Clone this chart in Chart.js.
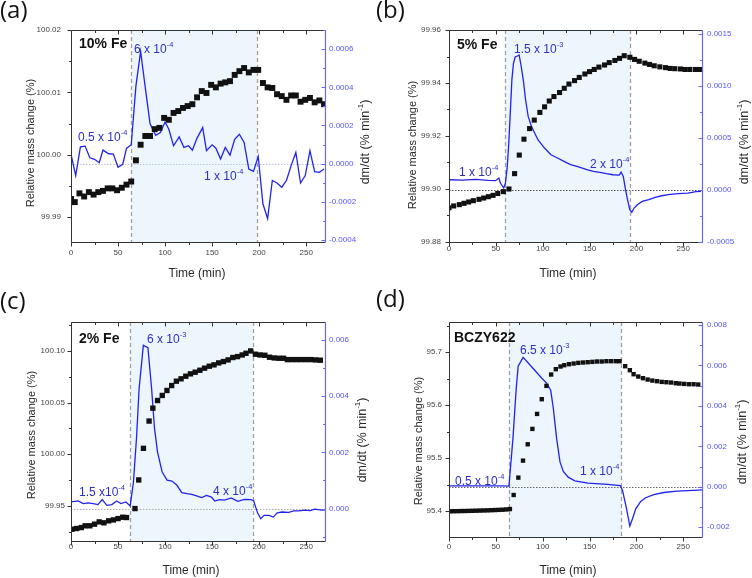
<!DOCTYPE html>
<html>
<head>
<meta charset="utf-8">
<title>TGA mass change and dm/dt</title>
<script src="https://cdn.jsdelivr.net/npm/chart.js@4.4.1/dist/chart.umd.min.js"></script>
<style>
  body { margin: 0; background: #fff; }
  #wrap { position: relative; width: 752px; height: 578px; }
  #wrap canvas { position: absolute; }
</style>
</head>
<body>
<div id="wrap">
  <canvas id="pa" width="376" height="289" style="left:0;top:0"></canvas>
  <canvas id="pb" width="376" height="289" style="left:376px;top:0"></canvas>
  <canvas id="pc" width="376" height="289" style="left:0;top:289px"></canvas>
  <canvas id="pd" width="376" height="289" style="left:376px;top:289px"></canvas>
</div>
<script>
// shared time axis ticks (min)
const xTicks = [0, 50, 100, 150, 200, 250];

// (a) 10% Fe
const aMassTime = [0,4,9,14,19,24,29,34,39,44,49,54,59,64,69,74,79,84,89,94,99,104,109,114,119,124,129,134,139,144,149,154,159,164,169,174,179,184,189,194,199,204,209,214,219,224,229,234,239,244,249,254,259,264,269];
const aMass = [99.9929,99.9924,99.9938,99.9933,99.9940,99.9936,99.9940,99.9942,99.9946,99.9946,99.9943,99.9947,99.9952,99.9957,99.9991,100.0016,100.0030,100.0030,100.0041,100.0043,100.0059,100.0056,100.0067,100.0070,100.0075,100.0078,100.0081,100.0092,100.0102,100.0099,100.0112,100.0108,100.0114,100.0116,100.0118,100.0128,100.0134,100.0139,100.0132,100.0136,100.0136,100.0115,100.0108,100.0107,100.0097,100.0094,100.0088,100.0095,100.0095,100.0085,100.0088,100.0091,100.0084,100.0087,100.0081];
const aRateTime = [0,5,10,15,20,25,30,34,40,45,50,55,59,64,69,74,79,84,90,95,100,104,109,115,120,125,129,134,140,144,150,154,159,164,169,174,179,184,189,194,199,204,209,214,219,224,229,234,239,244,249,254,259,264,269];
const aRate = [0.50e-4,-0.62e-4,0.88e-4,0.92e-4,0.31e-4,0.23e-4,0.05e-4,0.71e-4,0.52e-4,0.50e-4,-0.19e-4,-0.03e-4,0.80e-4,0.99e-4,4.06e-4,5.88e-4,3.97e-4,2.10e-4,1.49e-4,1.63e-4,2.18e-4,1.80e-4,0.94e-4,1.40e-4,0.85e-4,0.94e-4,0.71e-4,1.34e-4,1.89e-4,0.68e-4,0.99e-4,0.81e-4,0.24e-4,0.85e-4,0.45e-4,1.28e-4,1.54e-4,1.11e-4,-0.28e-4,-0.40e-4,0.38e-4,-2.10e-4,-2.88e-4,-0.88e-4,-1.01e-4,-1.23e-4,-0.88e-4,-0.10e-4,0.59e-4,-1.01e-4,-0.62e-4,0.68e-4,-0.42e-4,-0.45e-4,-0.28e-4];
const aMassTicks = [99.99, 100.00, 100.01, 100.02];
const aRateTicks = [-0.0004, -0.0002, 0, 0.0002, 0.0004, 0.0006];

// (b) 5% Fe
const bMassTime = [0,5,11,16,21,26,32,37,42,47,52,58,64,70,75,80,86,91,97,102,107,112,118,123,128,134,139,145,150,155,160,166,171,177,182,187,193,198,203,209,214,219,225,231,236,241,247,252,257,263,268];
const bMass = [99.8929,99.8936,99.8941,99.8946,99.8951,99.8956,99.8961,99.8966,99.8971,99.8976,99.8983,99.8990,99.9000,99.9058,99.9128,99.9188,99.9228,99.9260,99.9289,99.9310,99.9332,99.9349,99.9364,99.9380,99.9396,99.9409,99.9421,99.9434,99.9443,99.9451,99.9460,99.9468,99.9477,99.9485,99.9493,99.9503,99.9497,99.9489,99.9482,99.9475,99.9470,99.9465,99.9461,99.9458,99.9455,99.9454,99.9453,99.9451,99.9451,99.9451,99.9451];
const bRateTime = [0.3,14.3,28.2,42.1,49.7,53.2,54.9,58.4,60.2,61.9,63.6,65.4,67.1,68.8,70.6,73.0,74.8,76.5,79.3,81.7,84.5,88.0,91.4,94.9,101.9,108.8,115.8,122.7,129.7,136.6,147.1,154.0,161.0,167.9,174.9,181.8,183.6,186.0,188.1,190.5,193.0,195.1,197.5,201.0,206.2,213.1,220.1,227.0,234.0,244.4,254.9,263.6,269];
const bRate = [0.99e-4,0.96e-4,1.03e-4,0.93e-4,0.90e-4,1.15e-4,0.67e-4,0.19e-4,0.67e-4,1.96e-4,4.20e-4,7.40e-4,10.6e-4,12.2e-4,12.8e-4,12.9e-4,13.0e-4,12.2e-4,10.6e-4,8.69e-4,7.08e-4,6.12e-4,5.48e-4,4.84e-4,4.04e-4,3.40e-4,3.08e-4,2.76e-4,2.44e-4,2.28e-4,1.96e-4,1.79e-4,1.70e-4,1.57e-4,1.47e-4,1.44e-4,1.73e-4,1.31e-4,0.19e-4,-0.93e-4,-1.89e-4,-2.15e-4,-1.73e-4,-1.41e-4,-1.09e-4,-0.93e-4,-0.71e-4,-0.55e-4,-0.45e-4,-0.35e-4,-0.29e-4,-0.16e-4,-0.12e-4];
const bMassTicks = [99.88, 99.90, 99.92, 99.94, 99.96];
const bRateTicks = [-0.0005, 0, 0.0005, 0.0010, 0.0015];

// (c) 2% Fe
const cMassTime = [1,6,11,15,20,25,30,35,40,45,50,55,59,68,72,77,83,87,92,97,102,107,112,117,122,127,132,137,142,147,152,157,162,167,172,177,182,186,191,196,201,206,211,216,221,226,230,235,240,245,250,255,260,265];
const cMass = [99.9274,99.9281,99.9290,99.9307,99.9307,99.9323,99.9345,99.9336,99.9355,99.9364,99.9377,99.9390,99.9387,99.9474,99.9751,100.0057,100.0321,100.0446,100.0520,100.0569,100.0617,100.0665,100.0707,100.0730,100.0755,100.0778,100.0794,100.0813,100.0833,100.0852,100.0865,100.0884,100.0897,100.0913,100.0936,100.0945,100.0961,100.0977,100.1000,100.0968,100.0961,100.0958,100.0939,100.0932,100.0929,100.0929,100.0916,100.0916,100.0916,100.0916,100.0916,100.0916,100.0913,100.0910];
const cRateTime = [0,7.7,12.9,18.2,23.4,28.7,33.2,38.1,43.4,48.6,53.1,58.4,62.9,66.4,69.6,72.4,76.9,81.8,85.7,88.8,92.0,96.9,102.1,107.3,112.6,117.8,123.1,128.3,133.6,138.8,144.1,149.3,152.8,158.0,163.3,170.3,177.3,184.3,191.3,194.1,198.3,201.7,205.2,210.5,215.0,219.2,224.5,231.5,236.7,242.0,249.0,254.2,259.4,266.4,270];
const cRate = [0.237e-3,0.272e-3,0.178e-3,0.201e-3,0.178e-3,0.142e-3,0.320e-3,0.118e-3,0.142e-3,0.272e-3,0.178e-3,0.237e-3,0.095e-3,0.947e-3,2.49e-3,4.26e-3,5.80e-3,5.72e-3,4.26e-3,2.84e-3,2.01e-3,1.30e-3,1.01e-3,0.98e-3,0.83e-3,0.57e-3,0.53e-3,0.51e-3,0.45e-3,0.39e-3,0.47e-3,0.41e-3,0.27e-3,0.32e-3,0.30e-3,0.38e-3,0.26e-3,0.33e-3,0.32e-3,0.28e-3,-0.15e-3,-0.36e-3,-0.24e-3,-0.24e-3,-0.30e-3,-0.15e-3,-0.12e-3,-0.13e-3,-0.08e-3,-0.08e-3,-0.05e-3,-0.07e-3,-0.02e-3,-0.05e-3,-0.04e-3];
const cMassTicks = [99.95, 100.00, 100.05, 100.10];
const cRateTicks = [0, 0.002, 0.004, 0.006];

// (d) BCZY622
const dMassTime = [1,5,9,13,17,21,25,29,33,37,41,45,49,53,57,61,65,69,74,79,84,89,94,99,104,109,114,119,123,128,133,138,143,148,153,158,163,168,173,178,182,188,193,197,202,207,212,217,222,227,232,237,242,246,251,256,261,266];
const dMass = [95.3995,95.3997,95.3998,95.4000,95.4001,95.4003,95.4005,95.4007,95.4009,95.4011,95.4013,95.4016,95.4019,95.4022,95.4025,95.4030,95.4038,95.4303,95.4631,95.4952,95.5261,95.5551,95.5834,95.6112,95.6364,95.6578,95.6679,95.6729,95.6754,95.6773,95.6786,95.6798,95.6805,95.6811,95.6817,95.6824,95.6824,95.6830,95.6830,95.6830,95.6830,95.6735,95.6660,95.6584,95.6540,95.6509,95.6483,95.6464,95.6452,95.6439,95.6433,95.6427,95.6414,95.6408,95.6401,95.6395,95.6395,95.6389];
const dRateTime = [0,28.8,56.9,64.0,68.2,71.7,73.8,79.1,88.6,99.1,104.4,108.6,111.4,114.9,118.5,122.0,127.2,134.3,148.3,169.4,182.8,185.2,189.5,193.0,195.8,199.3,204.6,209.8,218.6,229.2,243.2,266.1,270];
const dRate = [0.049e-3,0.049e-3,0.049e-3,0.033e-3,2.37e-3,4.84e-3,5.96e-3,6.40e-3,5.91e-3,5.37e-3,5.12e-3,4.76e-3,3.85e-3,2.37e-3,1.22e-3,0.76e-3,0.48e-3,0.30e-3,0.18e-3,0.12e-3,0.066e-3,-0.18e-3,-1.09e-3,-1.94e-3,-1.58e-3,-1.09e-3,-0.72e-3,-0.54e-3,-0.38e-3,-0.28e-3,-0.21e-3,-0.16e-3,-0.15e-3];
const dMassTicks = [95.4, 95.5, 95.6, 95.7];
const dRateTicks = [-0.002, 0, 0.002, 0.004, 0.006, 0.008];

const FONT = '"Liberation Sans", Arial, sans-serif';
const BLUE_LINE = '#2222f0';
const BLUE_TEXT = '#2e2ec4';
const BLUE_AXIS = '#6666ff';
const SHADE = '#ecf6fc';

const panels = [
  { canvas: 'pa', tag: '(a)', tagY: 18,
    massT: aMassTime, mass: aMass, rateT: aRateTime, rate: aRate,
    massTicks: aMassTicks, rateTicks: aRateTicks,
    yMin: 99.986, yMax: 100.02, rMin: -0.00041, rMax: 0.0007, massDec: 2, rateDec: 4,
    shade: [64, 198], zeroColor: '#b8c2da', sq: 4.2,
    area: { left: 71, right: 325, top: 30, bottom: 242 }, pad: { x: 6, l: 10, r: 4 },
    titles: { x: [197, 274], l: [31, 143], r: [366, 142] },
    notes: [
      { x: 79, y: 44, text: '10% Fe', bold: true },
      { x: 134, y: 50, text: '6 x 10', sup: '-4' },
      { x: 78, y: 138, text: '0.5 x 10', sup: '-4' },
      { x: 204, y: 177, text: '1 x 10', sup: '-4' }
    ] },
  { canvas: 'pb', tag: '(b)', tagY: 18,
    massT: bMassTime, mass: bMass, rateT: bRateTime, rate: bRate,
    massTicks: bMassTicks, rateTicks: bRateTicks,
    yMin: 99.88, yMax: 99.96, rMin: -0.0005, rMax: 0.00154, massDec: 2, rateDec: 4,
    shade: [60, 193], zeroColor: '#555', sq: 3.6,
    area: { left: 73, right: 326, top: 30, bottom: 242 }, pad: { x: 2, l: 8, r: 5 },
    titles: { x: [192, 274], l: [37, 145], r: [369, 142] },
    notes: [
      { x: 81, y: 45, text: '5% Fe', bold: true },
      { x: 138, y: 50, text: '1.5 x 10', sup: '-3' },
      { x: 83, y: 173, text: '1 x 10', sup: '-4' },
      { x: 214, y: 165, text: '2 x 10', sup: '-4' }
    ] },
  { canvas: 'pc', tag: '(c)', tagY: 20,
    massT: cMassTime, mass: cMass, rateT: cRateTime, rate: cRate,
    massTicks: cMassTicks, rateTicks: cRateTicks,
    yMin: 99.916, yMax: 100.128, rMin: -0.00115, rMax: 0.00663, massDec: 2, rateDec: 3,
    shade: [63, 193], zeroColor: '#aaa', sq: 3.8,
    area: { left: 71, right: 325, top: 33, bottom: 252 }, pad: { x: 1, l: 6, r: 4 },
    titles: { x: [191, 282], l: [32, 146], r: [363, 151] },
    notes: [
      { x: 79, y: 50, text: '2% Fe', bold: true },
      { x: 147, y: 51, text: '6 x 10', sup: '-3' },
      { x: 79, y: 204, text: '1.5 x10', sup: '-4' },
      { x: 213, y: 203, text: '4 x 10', sup: '-4' }
    ] },
  { canvas: 'pd', tag: '(d)', tagY: 18,
    massT: dMassTime, mass: dMass, rateT: dRateTime, rate: dRate,
    massTicks: dMassTicks, rateTicks: dRateTicks,
    yMin: 95.351, yMax: 95.757, rMin: -0.00248, rMax: 0.00815, massDec: 1, rateDec: 3,
    shade: [64, 184], zeroColor: '#666', sq: 3.1,
    area: { left: 73, right: 326, top: 33, bottom: 248 }, pad: { x: 5, l: 7, r: 5 },
    titles: { x: [192, 282], l: [43, 152], r: [367, 153] },
    notes: [
      { x: 78, y: 49, text: 'BCZY622', bold: true },
      { x: 144, y: 62, text: '6.5 x 10', sup: '-3' },
      { x: 79, y: 193, text: '0.5 x 10', sup: '-4' },
      { x: 204, y: 183, text: '1 x 10', sup: '-4' }
    ] }
];

function xy(ts, vs) {
  return ts.map((t, i) => ({ x: t, y: vs[i] }));
}

function minorsOf(major, min, max) {
  const out = [];
  const st = major[1] - major[0];
  if (major[0] - st / 2 >= min) out.push(major[0] - st / 2);
  for (let i = 0; i < major.length - 1; i++) out.push((major[i] + major[i + 1]) / 2);
  const last = major[major.length - 1] + st / 2;
  if (last <= max) out.push(last);
  return out;
}

function seg(ctx, x1, y1, x2, y2) {
  ctx.beginPath();
  ctx.moveTo(x1, y1);
  ctx.lineTo(x2, y2);
  ctx.stroke();
}

// text with an optional raised part, drawn left or centred on x
function rich(ctx, parts, x, y, size, align, bold) {
  const f = s => (bold ? 'bold ' : '') + s + 'px ' + FONT;
  let w = 0;
  parts.forEach(([t, sup]) => { ctx.font = f(sup ? size * 0.62 : size); w += ctx.measureText(t).width; });
  let cx = align === 'center' ? x - w / 2 : x;
  ctx.textAlign = 'left';
  ctx.textBaseline = 'middle';
  parts.forEach(([t, sup]) => {
    ctx.font = f(sup ? size * 0.62 : size);
    ctx.fillText(t, cx, sup ? y - size * 0.42 : y);
    cx += ctx.measureText(t).width;
  });
}

function decor(p) {
  return {
    id: 'decor',
    beforeDatasetsDraw(chart) {
      const { ctx, chartArea: a, scales: { x, y1 } } = chart;
      ctx.save();
      const xs = x.getPixelForValue(p.shade[0]);
      const xe = x.getPixelForValue(p.shade[1]);
      ctx.fillStyle = SHADE;
      ctx.fillRect(xs, a.top, xe - xs, a.bottom - a.top);
      const y0 = Math.round(y1.getPixelForValue(0)) + 0.5;
      ctx.strokeStyle = p.zeroColor;
      ctx.lineWidth = 1;
      ctx.setLineDash([1.5, 1.5]);
      seg(ctx, a.left, y0, a.right, y0);
      ctx.strokeStyle = '#a0a0a0';
      ctx.lineWidth = 1.3;
      ctx.setLineDash([4, 3]);
      [xs, xe].forEach(px => seg(ctx, Math.round(px) + 0.5, a.top, Math.round(px) + 0.5, a.bottom));
      ctx.restore();
    },
    afterDraw(chart) {
      const { ctx, chartArea: a, scales: { x, y, y1 } } = chart;
      const L = a.left + 0.5, R = Math.round(a.right) + 0.5, T = a.top + 0.5, B = Math.round(a.bottom) + 0.5;
      ctx.save();
      ctx.setLineDash([]);
      ctx.lineWidth = 1;
      ctx.strokeStyle = '#333';
      seg(ctx, L, T, R, T);
      seg(ctx, L, T, L, B);
      seg(ctx, L, B, R, B);
      // time ticks: outward at bottom, inward at top
      xTicks.forEach(v => {
        const px = Math.round(x.getPixelForValue(v)) + 0.5;
        seg(ctx, px, B, px, B + 4);
        seg(ctx, px, T, px, T + 4);
      });
      minorsOf(xTicks, 0, 270).forEach(v => {
        const px = Math.round(x.getPixelForValue(v)) + 0.5;
        seg(ctx, px, B, px, B + 2.5);
        seg(ctx, px, T, px, T + 2.5);
      });
      // mass ticks, outward on the left
      p.massTicks.forEach(v => { const py = Math.round(y.getPixelForValue(v)) + 0.5; seg(ctx, L - 4, py, L, py); });
      minorsOf(p.massTicks, p.yMin, p.yMax).forEach(v => { const py = Math.round(y.getPixelForValue(v)) + 0.5; seg(ctx, L - 2.5, py, L, py); });
      // dm/dt axis in blue, ticks pointing in
      ctx.strokeStyle = BLUE_AXIS;
      ctx.lineWidth = 1.2;
      seg(ctx, R, T, R, B);
      ctx.lineWidth = 1;
      p.rateTicks.forEach(v => { const py = Math.round(y1.getPixelForValue(v)) + 0.5; seg(ctx, R - 4, py, R, py); });
      minorsOf(p.rateTicks, p.rMin, p.rMax).forEach(v => { const py = Math.round(y1.getPixelForValue(v)) + 0.5; seg(ctx, R - 2.5, py, R, py); });

      // axis titles
      ctx.fillStyle = '#2a2a2a';
      rich(ctx, [['Time (min)']], p.titles.x[0], p.titles.x[1], 12, 'center');
      ctx.save();
      ctx.translate(p.titles.l[0], p.titles.l[1]);
      ctx.rotate(-Math.PI / 2);
      rich(ctx, [['Relative mass change (%)']], 0, 0, 11, 'center');
      ctx.restore();
      ctx.save();
      ctx.translate(p.titles.r[0], p.titles.r[1]);
      ctx.rotate(-Math.PI / 2);
      rich(ctx, [['dm/dt (% min'], ['-1', true], [')']], 0, 0, 12.5, 'center');
      ctx.restore();

      // notes inside the plot
      p.notes.forEach(n => {
        ctx.fillStyle = n.bold ? '#111' : BLUE_TEXT;
        const parts = n.sup ? [[n.text], [n.sup, true]] : [[n.text]];
        rich(ctx, parts, n.x, n.y, n.bold ? 14 : 12, 'left', n.bold);
      });

      // panel tag
      ctx.fillStyle = '#111';
      ctx.font = '24px "Open Sans", sans-serif';
      ctx.textAlign = 'left';
      ctx.textBaseline = 'alphabetic';
      ctx.fillText(p.tag, 0, p.tagY);
      ctx.restore();
    }
  };
}

function build(p) {
  const el = document.getElementById(p.canvas);
  const tickFont = { family: FONT, size: 8 };
  return new Chart(el, {
    type: 'scatter',
    data: {
      datasets: [
        { label: 'mass', data: xy(p.massT, p.mass), yAxisID: 'y', order: 0,
          pointStyle: 'rect', pointRadius: p.sq, backgroundColor: '#111', borderWidth: 0, showLine: false },
        { label: 'dm/dt', data: xy(p.rateT, p.rate), yAxisID: 'y1', order: 1,
          showLine: true, pointRadius: 0, borderColor: BLUE_LINE, borderWidth: 1.3, tension: 0 }
      ]
    },
    options: {
      responsive: false,
      animation: false,
      devicePixelRatio: 1,
      events: [],
      layout: { padding: { top: p.area.top, left: 0, right: 0, bottom: 0 } },
      plugins: { legend: { display: false }, tooltip: { enabled: false } },
      scales: {
        x: {
          type: 'linear', position: 'bottom', min: 0, max: 270,
          grid: { display: false, drawTicks: false }, border: { display: false },
          ticks: { padding: p.pad.x, color: '#444', font: tickFont, maxRotation: 0, autoSkip: false },
          afterBuildTicks: s => { s.ticks = xTicks.map(v => ({ value: v })); },
          afterFit: s => { s.height = 289 - p.area.bottom; }
        },
        y: {
          type: 'linear', position: 'left', min: p.yMin, max: p.yMax,
          grid: { display: false, drawTicks: false }, border: { display: false },
          ticks: { padding: p.pad.l, color: '#444', font: tickFont, autoSkip: false,
                   callback: v => v.toFixed(p.massDec) },
          afterBuildTicks: s => { s.ticks = p.massTicks.map(v => ({ value: v })); },
          afterFit: s => { s.width = p.area.left; }
        },
        y1: {
          type: 'linear', position: 'right', min: p.rMin, max: p.rMax,
          grid: { display: false, drawTicks: false }, border: { display: false },
          ticks: { padding: p.pad.r, color: '#5555ff', font: tickFont, autoSkip: false,
                   callback: v => v.toFixed(p.rateDec) },
          afterBuildTicks: s => { s.ticks = p.rateTicks.map(v => ({ value: v })); },
          afterFit: s => { s.width = 376 - p.area.right; }
        }
      }
    },
    plugins: [decor(p)]
  });
}

panels.forEach(build);
</script>
</body>
</html>
